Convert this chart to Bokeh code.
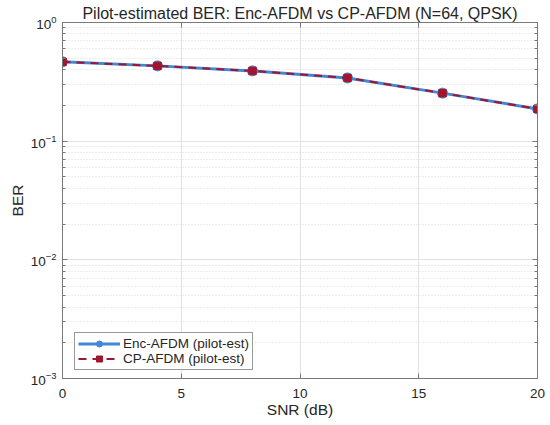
from bokeh.plotting import figure
from bokeh.models import (LogAxis, LinearAxis, FixedTicker, LogTicker, Title, Legend, LegendItem,
                          CustomJSTickFormatter)
from bokeh.embed import file_html
from bokeh.resources import INLINE

snr = [0, 4, 8, 12, 16, 20]
ber_enc = [0.466, 0.431, 0.391, 0.341, 0.254, 0.187]
ber_cp = [0.466, 0.431, 0.391, 0.341, 0.254, 0.187]
x_ticks = [0, 5, 10, 15, 20]
title_text = "Pilot-estimated BER: Enc-AFDM vs CP-AFDM (N=64, QPSK)"

FONT = "Liberation Sans"
AX = "#7a7a7a"
TXT = "#262626"
BLUE = "#4189d4"
RED = "#a2142f"

p = figure(width=550, height=425, y_axis_type="log", x_range=(0, 20), y_range=(1e-3, 1),
           output_backend="svg", toolbar_location=None,
           min_border_left=62, min_border_right=13, min_border_bottom=47, min_border_top=22)
p.title = Title(text=title_text, align="center", text_font=FONT, text_font_size="16px",
                text_font_style="normal", text_color=TXT, standoff=1)
p.background_fill_color = "white"
p.border_fill_color = "white"
p.outline_line_color = AX

p.xaxis.ticker = FixedTicker(ticks=x_ticks)
p.yaxis.ticker = LogTicker(desired_num_ticks=4, num_minor_ticks=10)

for ax in [p.xaxis[0], p.yaxis[0]]:
    ax.axis_line_color = AX
    ax.major_tick_line_color = AX
    ax.minor_tick_line_color = AX
    ax.major_tick_in = 5
    ax.major_tick_out = 0
    ax.minor_tick_in = 3
    ax.minor_tick_out = 0
    ax.major_label_text_font = FONT
    ax.major_label_text_font_size = "13.5px"
    ax.major_label_text_color = TXT
    ax.axis_label_text_font = FONT
    ax.axis_label_text_font_size = "15.5px"
    ax.axis_label_text_font_style = "normal"
    ax.axis_label_text_color = TXT
p.xaxis.minor_tick_in = 0
p.xaxis.major_label_standoff = 10
p.yaxis.major_label_standoff = 6
p.xaxis.axis_label = "SNR (dB)"
p.yaxis.axis_label = "BER"
p.xaxis.axis_label_standoff = 0
p.yaxis.axis_label_standoff = 2

blank = CustomJSTickFormatter(code="return ''")
top = LinearAxis(ticker=FixedTicker(ticks=x_ticks), formatter=blank,
                 major_tick_in=5, major_tick_out=0, minor_tick_in=0, minor_tick_out=0,
                 axis_line_color=AX, major_tick_line_color=AX, major_label_standoff=0)
right = LogAxis(ticker=LogTicker(desired_num_ticks=4, num_minor_ticks=10), formatter=blank,
                major_tick_in=5, major_tick_out=0, minor_tick_in=3, minor_tick_out=0,
                axis_line_color=AX, major_tick_line_color=AX, minor_tick_line_color=AX,
                major_label_standoff=0)
p.add_layout(top, "above")
p.add_layout(right, "right")

p.xgrid.grid_line_color = "#e2e2e2"
p.ygrid.grid_line_color = "#e2e2e2"
p.ygrid.minor_grid_line_color = "#d8d8d8"
p.ygrid.minor_grid_line_dash = "1 2"

l1 = p.line(snr, ber_enc, line_color=BLUE, line_width=3)
m1 = p.scatter(snr, ber_enc, marker="circle", size=10, fill_color=BLUE, line_color=BLUE)
l2 = p.line(snr, ber_cp, line_color=RED, line_width=2, line_dash="8 6")
m2 = p.scatter(snr, ber_cp, marker="square", size=7.5, fill_color=RED, line_color=RED)

legend = Legend(items=[LegendItem(label="Enc-AFDM (pilot-est)", renderers=[l1, m1]),
                       LegendItem(label="CP-AFDM (pilot-est)", renderers=[l2, m2])],
                location=(12, 8))
legend.margin = 0
legend.padding = 3
legend.spacing = 0
legend.glyph_width = 42
legend.glyph_height = 15
legend.label_text_font = FONT
legend.label_text_font_size = "13.5px"
legend.label_text_color = TXT
legend.label_standoff = 3
legend.border_line_color = "#333333"
legend.border_line_width = 1
legend.background_fill_color = "white"
legend.background_fill_alpha = 1
p.add_layout(legend, "center")

open("out.html", "w").write(file_html(p, INLINE))
